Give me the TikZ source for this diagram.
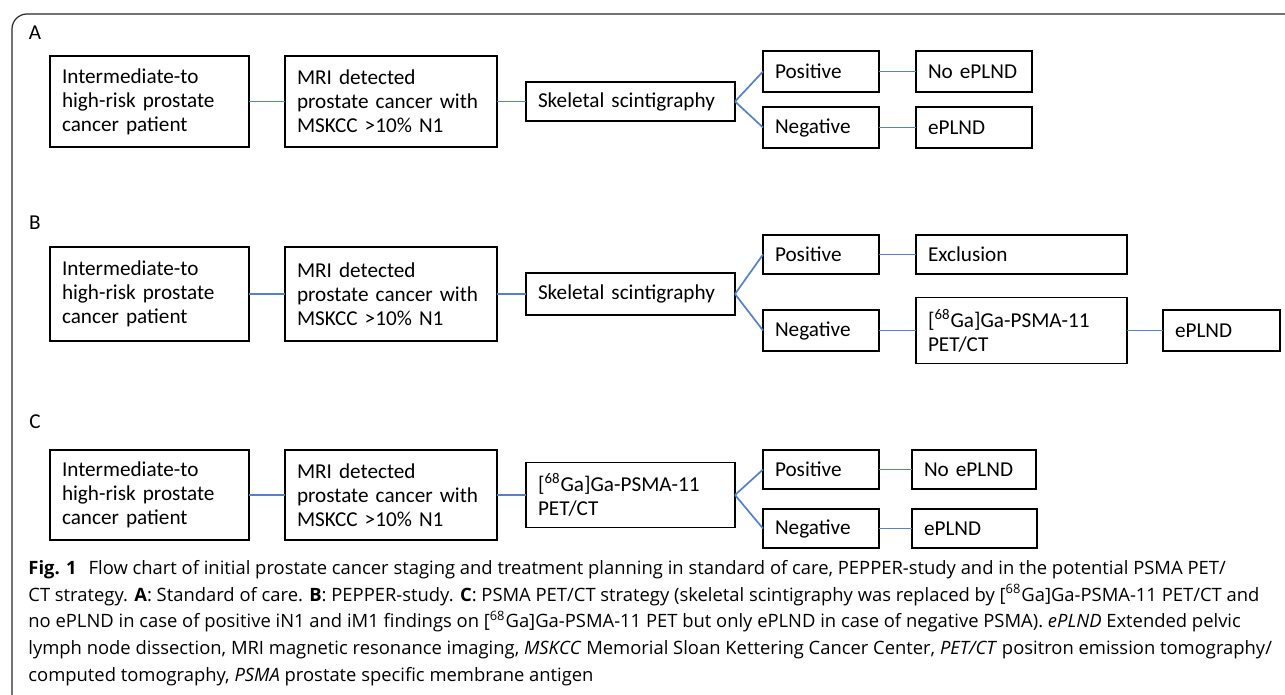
\documentclass[tikz,border=0pt]{standalone}
\usepackage{fontspec}
\setmainfont{Carlito}
\newfontfamily\capfont{Open Sans}
\usetikzlibrary{positioning}
\definecolor{linkblue}{RGB}{84,130,200}
\definecolor{framegray}{RGB}{40,40,40}

\tikzset{
  box/.style={draw,line width=.9pt,font=\fontsize{10.6}{12}\selectfont,align=left,inner xsep=6pt,inner ysep=0pt,outer sep=0pt},
  pnl/.style={font=\fontsize{10.6}{12}\selectfont,inner sep=0pt},
  link/.style={draw=linkblue,line width=.85pt},
  capnode/.style={font=\capfont\fontsize{9.2}{13.35}\selectfont,align=left,inner sep=0pt,anchor=north west}
}

\begin{document}
\begin{tikzpicture}[x=0.5pt,y=-0.5pt]
\useasboundingbox (0,0) rectangle (1285,695);
\clip (0,0) rectangle (1285,695);
\draw[framegray,line width=.6pt,rounded corners=7.5pt] (12,14) rectangle (1320,710);

% A: standard of care
\node[pnl] (la) at (35,33) {A};
\node[box,text width=87.5pt,minimum height=45.5pt,anchor=north west] (a1) at (50,56) {Intermediate-to\\high-risk prostate\\cancer patient};
\node[box,text width=94pt,minimum height=45.5pt] (a2) [right=18pt of a1] {MRI detected\\prostate cancer with\\MSKCC >10\% N1};
\node[box,text width=92.5pt,minimum height=19.5pt] (a3) [right=14.5pt of a2] {Skeletal scintigraphy};
\node[box,text width=46pt,minimum height=20.5pt] (apos) [right=14pt of a3,yshift=15pt] {Positive};
\node[box,text width=46pt,minimum height=20.5pt] (aneg) [right=14pt of a3,yshift=-13pt] {Negative};
\node[box,text width=46pt,minimum height=20.5pt] (ano) [right=18.5pt of apos] {No ePLND};
\node[box,text width=46pt,minimum height=20.5pt] (aepl) [right=18.5pt of aneg] {ePLND};

% B: PEPPER-study
\node[pnl] (lb) at (35,223) {B};
\node[box,text width=87.5pt,minimum height=47pt,anchor=north west] (b1) at (50,247) {Intermediate-to\\high-risk prostate\\cancer patient};
\node[box,text width=94pt,minimum height=47pt] (b2) [right=18pt of b1] {MRI detected\\prostate cancer with\\MSKCC >10\% N1};
\node[box,text width=92.5pt,minimum height=21pt] (b3) [right=14.5pt of b2] {Skeletal scintigraphy};
\node[box,text width=46pt,minimum height=19.5pt] (bpos) [right=14pt of b3,yshift=19.75pt] {Positive};
\node[box,text width=46pt,minimum height=20.5pt] (bneg) [right=14pt of b3,yshift=-18.25pt] {Negative};
\node[box,text width=93.5pt,minimum height=19.5pt] (bexc) [right=18.5pt of bpos] {Exclusion};
\node[box,text width=93.5pt,minimum height=33pt] (bga) [right=18.5pt of bneg] {[\textsuperscript{68}Ga]Ga-PSMA-11\\PET/CT};
\node[box,text width=46.5pt,minimum height=20.5pt] (bepl) [right=18pt of bga] {ePLND};

% C: PSMA PET/CT strategy
\node[pnl] (lc) at (35,422) {C};
\node[box,text width=87.5pt,minimum height=45pt,anchor=north west] (c1) at (50,450) {Intermediate-to\\high-risk prostate\\cancer patient};
\node[box,text width=94pt,minimum height=45pt] (c2) [right=18pt of c1] {MRI detected\\prostate cancer with\\MSKCC >10\% N1};
\node[box,text width=92.5pt,minimum height=32.5pt] (c3) [right=14.5pt of c2] {[\textsuperscript{68}Ga]Ga-PSMA-11\\PET/CT};
\node[box,text width=46pt,minimum height=19.5pt] (cpos) [right=14pt of c3,yshift=12.75pt] {Positive};
\node[box,text width=46pt,minimum height=19.5pt] (cneg) [right=14pt of c3,yshift=-16.75pt] {Negative};
\node[box,text width=50pt,minimum height=19.5pt] (cno) [right=16.5pt of cpos] {No ePLND};
\node[box,text width=50.5pt,minimum height=19.5pt] (cepl) [right=16.5pt of cneg] {ePLND};

\path[link]
  (a1) edge (a2)
  (a2) edge (a3)
  (a3.east) edge (apos.west)
  (a3.east) edge (aneg.west)
  (apos) edge (ano)
  (aneg) edge (aepl)
  (b1) edge (b2)
  (b2) edge (b3)
  (b3.east) edge (bpos.west)
  (b3.east) edge (bneg.west)
  (bpos) edge (bexc)
  (bneg.east) edge (bga.west)
  (bga) edge (bepl)
  (c1) edge (c2)
  (c2) edge (c3)
  (c3.east) edge (cpos.west)
  (c3.east) edge (cneg.west)
  (cpos) edge (cno)
  (cneg) edge (cepl)
  ;

% caption
\node[capnode] (cap) at (28,560) {\textbf{Fig. 1}\hspace{6pt}Flow chart of initial prostate cancer staging and treatment planning in standard of care, PEPPER-study and in the potential PSMA PET/\\
CT strategy. \textbf{A}: Standard of care. \textbf{B}: PEPPER-study. \textbf{C}: PSMA PET/CT strategy (skeletal scintigraphy was replaced by [\textsuperscript{68}Ga]Ga-PSMA-11 PET/CT and\\
no ePLND in case of positive iN1 and iM1 findings on [\textsuperscript{68}Ga]Ga-PSMA-11 PET but only ePLND in case of negative PSMA). \textit{ePLND} Extended pelvic\\
lymph node dissection, MRI magnetic resonance imaging, \textit{MSKCC} Memorial Sloan Kettering Cancer Center, \textit{PET/CT} positron emission tomography/\\
computed tomography, \textit{PSMA} prostate specific membrane antigen};
\end{tikzpicture}
\end{document}
